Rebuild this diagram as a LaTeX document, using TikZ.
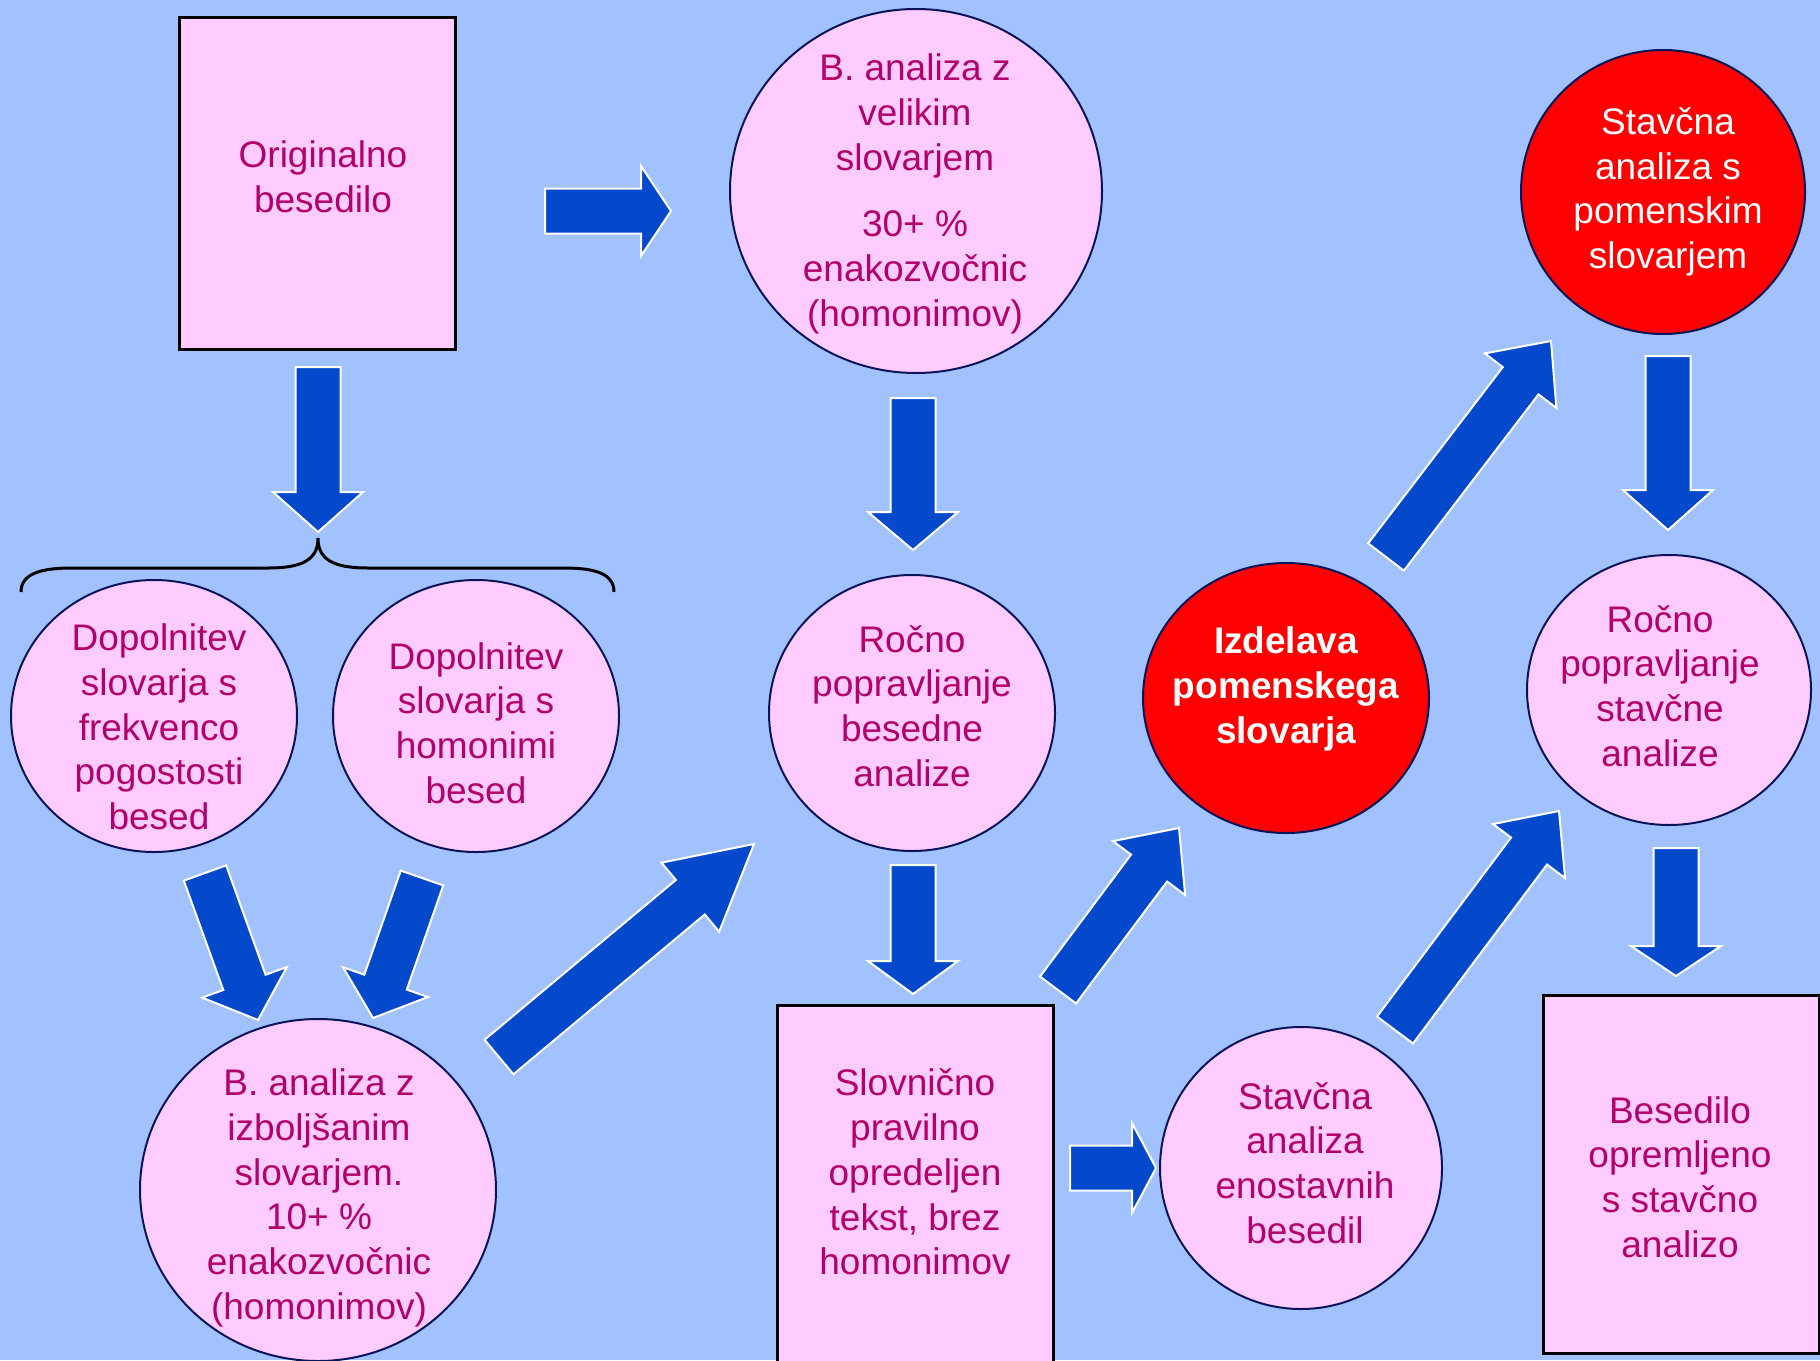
\documentclass[tikz,border=0pt]{standalone}
\usepackage{fontspec}
\setmainfont{Liberation Sans}
\usetikzlibrary{shapes.geometric,calc}
\definecolor{bgblue}{RGB}{162,194,255}
\definecolor{pinkfill}{RGB}{255,204,255}
\definecolor{txtcol}{RGB}{178,0,108}
\definecolor{arrblue}{RGB}{4,73,204}
\definecolor{navyline}{RGB}{10,20,90}
\tikzset{
  circ/.style={ellipse, draw=navyline, line width=2pt, fill=pinkfill, inner sep=0pt},
  redcirc/.style={circ, fill=red},
  boxx/.style={rectangle, draw=black, line width=3pt, fill=pinkfill, inner sep=0pt},
  txt/.style={font=\fontsize{37}{44.7}\selectfont, text=txtcol, align=center, inner sep=0pt},
  wtxt/.style={txt, text=white},
  barrow/.style={fill=arrblue, draw=white, line width=2pt, line join=miter},
  bracestyle/.style={draw=black, line width=3pt}
}
\newcommand\blockarr[3]{%
  \coordinate (hb) at ($(#2)!#3!(#1)$);
  \path[barrow] ($(#1)!22.5pt!90:(#2)$) -- ($(hb)!22.5pt!-90:(#1)$) -- ($(hb)!45pt!-90:(#1)$) -- (#2)
     -- ($(hb)!45pt!90:(#1)$) -- ($(hb)!22.5pt!90:(#1)$) -- ($(#1)!22.5pt!-90:(#2)$) -- cycle;
}
\begin{document}
\begin{tikzpicture}[x=1pt,y=-1pt]
\useasboundingbox (0,0) rectangle (1820,1360);
\clip (0,0) rectangle (1820,1360);
\fill[bgblue] (0,0) rectangle (1820,1360);

% shapes
\node[boxx, minimum width=276pt, minimum height=332pt] (orig) at (317,183) {};
\node[circ, minimum width=372pt, minimum height=364pt] (bvel) at (916,191) {};
\node[redcirc, minimum width=284pt, minimum height=284pt] (stpom) at (1663,192) {};
\node[circ, minimum width=286pt, minimum height=272pt] (dopf) at (154,716) {};
\node[circ, minimum width=286pt, minimum height=272pt] (doph) at (476,716) {};
\node[circ, minimum width=286pt, minimum height=276pt] (rbes) at (912,713) {};
\node[redcirc, minimum width=286pt, minimum height=270pt] (izd) at (1286,698) {};
\node[circ, minimum width=284pt, minimum height=270pt] (rstav) at (1669,690) {};
\node[circ, minimum width=356pt, minimum height=342pt] (bizb) at (318,1190) {};
\node[boxx, minimum width=276pt, minimum height=390pt] (slov) at (915,1200) {};
\node[circ, minimum width=282pt, minimum height=282pt] (sten) at (1301,1168) {};
\node[boxx, minimum width=276pt, minimum height=358pt] (beso) at (1681,1174) {};

% texts
\node[txt] (t1) at (323,177) {Originalno\\besedilo};
\node[txt] (t2) at (915,194) {B. analiza z\\velikim\\slovarjem\\[22pt]30+ \%\\enakozvočnic\\(homonimov)};
\node[wtxt] (t3) at (1668,192) {Stavčna\\analiza s\\pomenskim\\slovarjem};
\node[txt] (t4) at (159,727) {Dopolnitev\\slovarja s\\frekvenco\\pogostosti\\besed};
\node[txt] (t5) at (476,723) {Dopolnitev\\slovarja s\\homonimi\\besed};
\node[txt] (t6) at (912,706) {Ročno\\popravljanje\\besedne\\analize};
\node[wtxt, font=\fontsize{37}{44.7}\selectfont\bfseries] (t7) at (1286,689) {Izdelava\\pomenskega\\slovarja};
\node[txt] (t8) at (1660,686) {Ročno\\popravljanje\\stavčne\\analize};
\node[txt] (t9) at (319,1198) {B. analiza z\\izboljšanim\\slovarjem.\\10+ \%\\enakozvočnic\\(homonimov)};
\node[txt] (t10) at (915,1172) {Slovnično\\pravilno\\opredeljen\\tekst, brez\\homonimov};
\node[txt] (t11) at (1305,1163) {Stavčna\\analiza\\enostavnih\\besedil};
\node[txt] (t12) at (1680,1177) {Besedilo\\opremljeno\\s stavčno\\analizo};

% brace
\coordinate (brL) at (21,592);
\coordinate (brT) at (318,538);
\coordinate (brR) at (614,592);
\draw[bracestyle] (brL) .. controls (21,574) and (40,568) .. (72,568) -- (268,568)
   .. controls (302,568) and (318,560) .. (brT)
   .. controls (318,560) and (334,568) .. (368,568) -- (564,568)
   .. controls (596,568) and (614,574) .. (brR);

% block arrows
\coordinate (a1s) at (545,211);  \coordinate (a1e) at (671,211);
\coordinate (a2s) at (318,367);  \coordinate (a2e) at (318,532);
\coordinate (a3s) at (913,398);  \coordinate (a3e) at (913,550);
\coordinate (a4s) at (913,865);  \coordinate (a4e) at (913,994);
\coordinate (a5s) at (1386,557); \coordinate (a5e) at (1551,341);
\coordinate (a6s) at (1668,356); \coordinate (a6e) at (1668,530);
\coordinate (a7s) at (1676,848); \coordinate (a7e) at (1676,976);
\coordinate (a8s) at (205,873);  \coordinate (a8e) at (258,1020);
\coordinate (a9s) at (422,878);  \coordinate (a9e) at (373,1018);
\coordinate (a10s) at (499,1057); \coordinate (a10e) at (754,844);
\coordinate (a11s) at (1058,990); \coordinate (a11e) at (1179,828);
\coordinate (a12s) at (1395,1030); \coordinate (a12e) at (1559,811);
\coordinate (a13s) at (1070,1168); \coordinate (a13e) at (1156,1168);

\blockarr{a1s}{a1e}{30pt}
\blockarr{a2s}{a2e}{40pt}
\blockarr{a3s}{a3e}{38pt}
\blockarr{a4s}{a4e}{33pt}
\blockarr{a5s}{a5e}{50pt}
\blockarr{a6s}{a6e}{40pt}
\blockarr{a7s}{a7e}{30pt}
\blockarr{a8s}{a8e}{40pt}
\blockarr{a9s}{a9e}{38pt}
\blockarr{a10s}{a10e}{83pt}
\blockarr{a11s}{a11e}{50pt}
\blockarr{a12s}{a12e}{50pt}
\blockarr{a13s}{a13e}{24pt}
\end{tikzpicture}
\end{document}
